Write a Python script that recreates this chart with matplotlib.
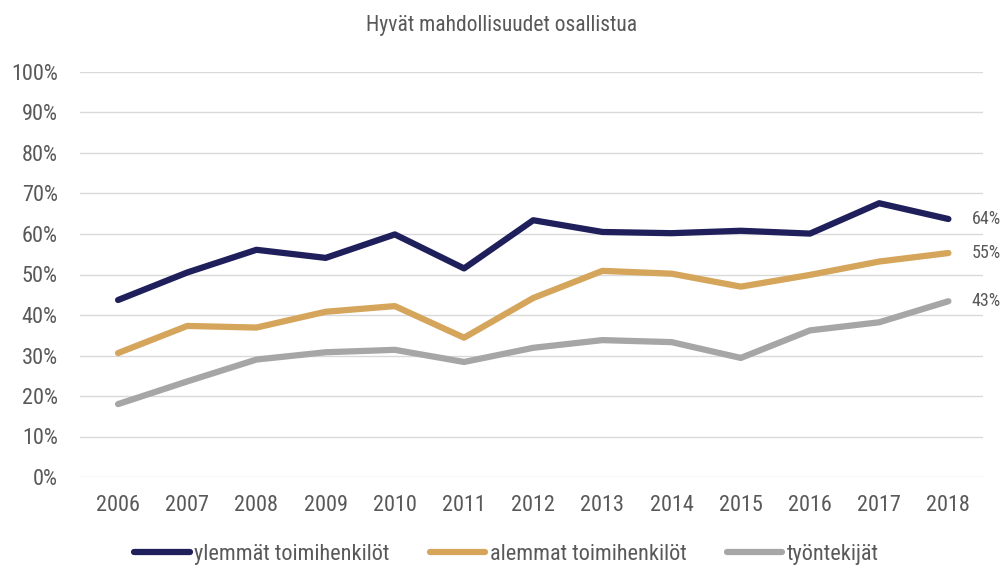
import matplotlib.pyplot as plt
from matplotlib.ticker import PercentFormatter

plt.rcParams['font.family'] = ['Roboto Condensed', 'Liberation Sans', 'DejaVu Sans']

years = [2006, 2007, 2008, 2009, 2010, 2011, 2012, 2013, 2014, 2015, 2016, 2017, 2018]
ylemmat = [43.7, 50.5, 56.1, 54.1, 59.9, 51.5, 63.4, 60.5, 60.2, 60.8, 60.1, 67.6, 63.7]
alemmat = [30.6, 37.3, 36.9, 40.8, 42.2, 34.4, 44.2, 50.9, 50.2, 47.0, 49.9, 53.2, 55.3]
tyontekijat = [18.0, 23.6, 29.0, 30.8, 31.4, 28.4, 31.9, 33.8, 33.3, 29.4, 36.2, 38.2, 43.4]

series = [
    ("ylemmät toimihenkilöt", ylemmat, "#1f1f5c"),
    ("alemmat toimihenkilöt", alemmat, "#d4a55a"),
    ("työntekijät", tyontekijat, "#a6a6a6"),
]
text_col = "#595959"

fig = plt.figure(figsize=(10.03, 5.70), dpi=100)
ax = fig.add_axes([80 / 1003, 93 / 570, 903 / 1003, 405 / 570])

for name, vals, col in series:
    ax.plot(years, vals, color=col, lw=4.5, label=name, solid_capstyle="round")
    ax.text(years[-1] + 0.34, vals[-1], f"{round(vals[-1])}%", color=text_col,
            fontsize=13, va="center", ha="left")

ax.set_xlim(2005.45, 2018.5)
ax.set_ylim(0, 100)
ax.set_yticks(range(0, 101, 10))
ax.yaxis.set_major_formatter(PercentFormatter(decimals=0))
ax.set_xticks(years)
ax.grid(axis="y", color="#d9d9d9", lw=1)
ax.set_axisbelow(True)
for s in ax.spines.values():
    s.set_visible(False)
ax.tick_params(length=0, labelsize=16, colors=text_col)
ax.tick_params(axis="x", pad=13)
ax.tick_params(axis="y", pad=16)

fig.text(0.5, 0.955, "Hyvät mahdollisuudet osallistua", ha="center", va="center",
         fontsize=15.5, color=text_col)
fig.legend(loc="center", bbox_to_anchor=(0.505, 0.027), ncol=3, frameon=False,
           fontsize=16, labelcolor=text_col, handlelength=2.5, handletextpad=0.2,
           columnspacing=1.8)

fig.savefig("out.png", dpi=100)
